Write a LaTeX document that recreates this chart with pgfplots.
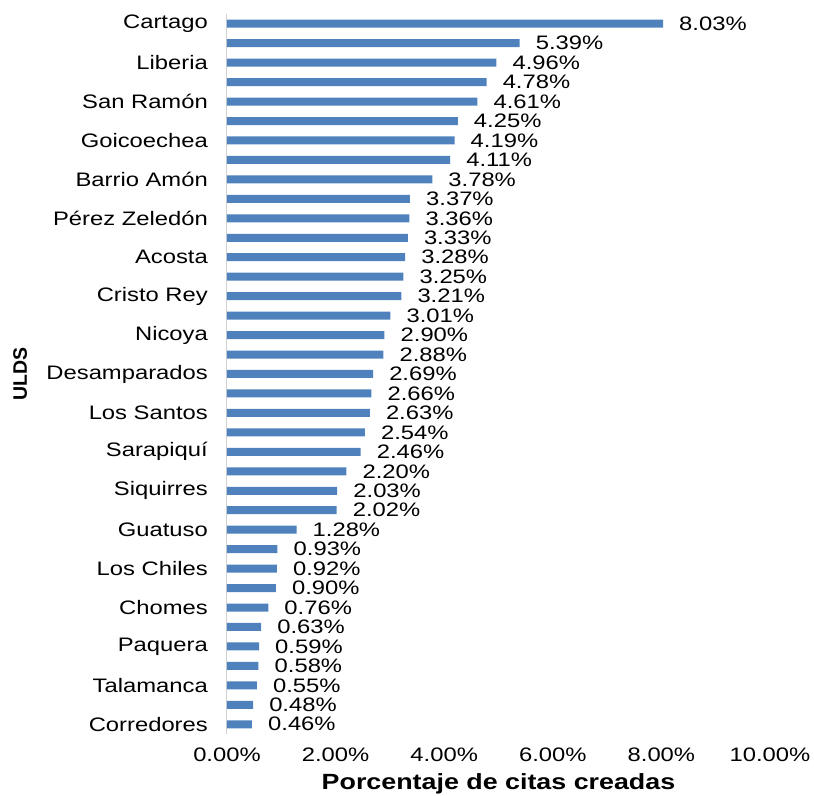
\documentclass[border=0pt]{standalone}
\usepackage{fontspec}
\setmainfont{Liberation Sans}[FakeStretch=1.22]
\newfontfamily\plainfont{Liberation Sans}
\usepackage{pgfplots}
\pgfplotsset{compat=1.18}
\definecolor{barblue}{HTML}{4F81BD}
\newcommand{\chartfont}{\fontsize{19.5bp}{23bp}\selectfont}
\begin{document}
\begin{tikzpicture}
\useasboundingbox (-227bp,-62bp) rectangle (587bp,734bp);
\begin{axis}[
  at={(0,0)}, anchor=south west,
  scale only axis, width=543bp, height=720bp,
  xmin=0, xmax=10, ymin=-0.5, ymax=36.5,
  xbar, bar width=8bp,
  axis lines=left,
  axis line style={-},
  x axis line style={draw=none},
  y axis line style={draw=black!18, line width=1bp},
  major tick length=0,
  /pgf/number format/assume math mode=true,
  xtick={0,2,...,10},
  xticklabel={\pgfmathprintnumber[fixed,fixed zerofill,precision=2]{\tick}\%},
  xticklabel style={font=\chartfont, anchor=north, inner sep=0, yshift=-14bp},
  ytick={0,2,...,36},
  yticklabels={Corredores,Talamanca,Paquera,Chomes,Los Chiles,Guatuso,Siquirres,Sarapiquí,Los Santos,Desamparados,Nicoya,Cristo Rey,Acosta,Pérez Zeledón,Barrio Amón,Goicoechea,San Ramón,Liberia,Cartago},
  yticklabel style={font=\chartfont, anchor=east, inner sep=0, xshift=-19bp},
  xlabel={Porcentaje de citas creadas},
  xlabel style={font=\fontsize{22bp}{25bp}\selectfont\bfseries, at={(axis description cs:0.5,-0.0694)}, anchor=center},
  ylabel={ULDS},
  ylabel style={font=\fontsize{19.5bp}{23bp}\selectfont\plainfont\bfseries, at={(axis description cs:-0.381,0.5)}, anchor=center},
  point meta=x,
  nodes near coords={\pgfmathprintnumber[fixed,fixed zerofill,precision=2]{\pgfplotspointmeta}\%},
  nodes near coords style={font=\chartfont, anchor=west, inner sep=0, xshift=16bp, text=black},
]
\addplot[draw=none, fill=barblue] coordinates {
(8.03,36) (5.39,35) (4.96,34) (4.78,33) (4.61,32) (4.25,31) (4.19,30) (4.11,29)
(3.78,28) (3.37,27) (3.36,26) (3.33,25) (3.28,24) (3.25,23) (3.21,22) (3.01,21)
(2.90,20) (2.88,19) (2.69,18) (2.66,17) (2.63,16) (2.54,15) (2.46,14) (2.20,13)
(2.03,12) (2.02,11) (1.28,10) (0.93,9) (0.92,8) (0.90,7) (0.76,6) (0.63,5)
(0.59,4) (0.58,3) (0.55,2) (0.48,1) (0.46,0)
};
\end{axis}
\end{tikzpicture}
\end{document}
